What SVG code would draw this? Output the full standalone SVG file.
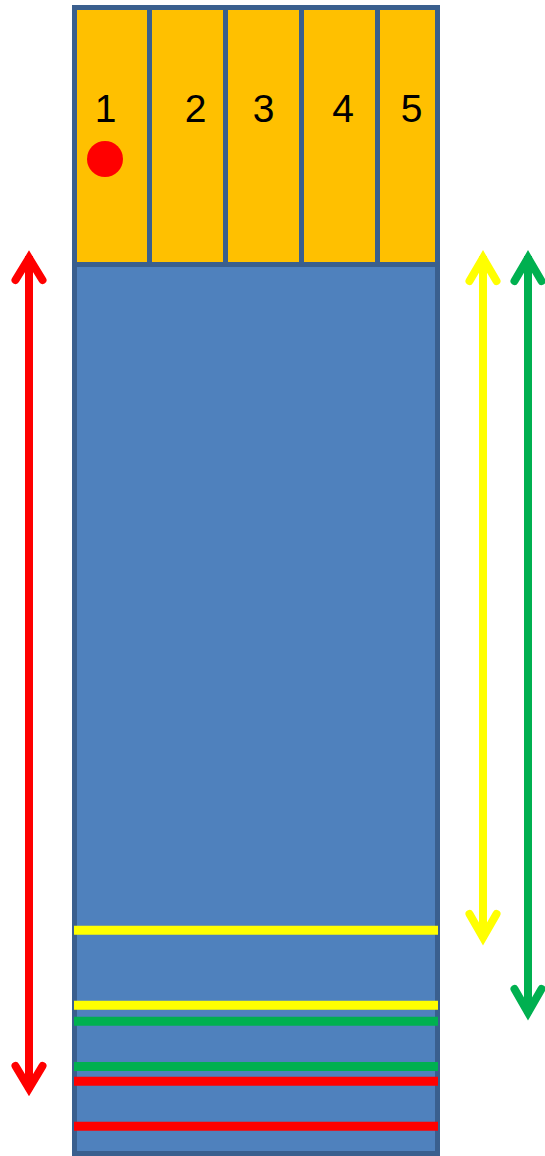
<svg xmlns="http://www.w3.org/2000/svg" width="545" height="1156" viewBox="0 0 545 1156">
<style>
.cell{fill:#FFC000;stroke:#3A5F8E;stroke-width:5}
.body{fill:#4F81BD;stroke:#3A5F8E;stroke-width:5}
.num{font-family:"Liberation Sans",Arial,sans-serif;font-size:39px;fill:#000;text-anchor:middle}
.band{stroke-width:9;fill:none}
.shaft{stroke-width:8;fill:none}
.head{stroke-width:8;fill:none;stroke-linecap:round;stroke-linejoin:miter;stroke-miterlimit:10}
</style>
<rect width="545" height="1156" fill="#FFFFFF"/>
<g id="body"><rect class="body" x="74.5" y="264.5" width="363" height="889"/></g>
<g id="cell1"><rect class="cell" x="74.5" y="7.5" width="75" height="257"/><text class="num" x="105.5" y="122">1</text></g>
<g id="cell2"><rect class="cell" x="149.5" y="7.5" width="76" height="257"/><text class="num" x="195.5" y="122">2</text></g>
<g id="cell3"><rect class="cell" x="225.5" y="7.5" width="76" height="257"/><text class="num" x="263.5" y="122">3</text></g>
<g id="cell4"><rect class="cell" x="301.5" y="7.5" width="76" height="257"/><text class="num" x="343" y="122">4</text></g>
<g id="cell5"><rect class="cell" x="377.5" y="7.5" width="60" height="257"/><text class="num" x="411.5" y="122">5</text></g>
<g id="dot"><circle cx="105" cy="159" r="18" fill="#FF0000"/></g>
<g id="bands">
<line class="band" x1="74" y1="930.3" x2="438" y2="930.3" stroke="#FFFF00"/>
<line class="band" x1="74" y1="1005.3" x2="438" y2="1005.3" stroke="#FFFF00"/>
<line class="band" x1="74" y1="1021.3" x2="438" y2="1021.3" stroke="#00B050"/>
<line class="band" x1="74" y1="1066.5" x2="438" y2="1066.5" stroke="#00B050"/>
<line class="band" x1="74" y1="1081.3" x2="438" y2="1081.3" stroke="#FF0000"/>
<line class="band" x1="74" y1="1126.3" x2="438" y2="1126.3" stroke="#FF0000"/>
</g>
<g id="connectors">
<g stroke="#FF0000">
<line class="shaft" x1="29" y1="256" x2="29" y2="1090"/>
<polyline class="head" points="15.5,280 29,258 42.5,280"/>
<polyline class="head" points="15.5,1066 29,1088.5 42.5,1066"/>
</g>
<g stroke="#FFFF00">
<line class="shaft" x1="483" y1="256" x2="483" y2="939"/>
<polyline class="head" points="469.5,281 483,258 496.5,281"/>
<polyline class="head" points="469.5,914 483,937.5 496.5,914"/>
</g>
<g stroke="#00B050">
<line class="shaft" x1="528" y1="256" x2="528" y2="1014"/>
<polyline class="head" points="514.5,281 528,258 541.5,281"/>
<polyline class="head" points="514.5,989 528,1012.5 541.5,989"/>
</g>
</g>
</svg>
